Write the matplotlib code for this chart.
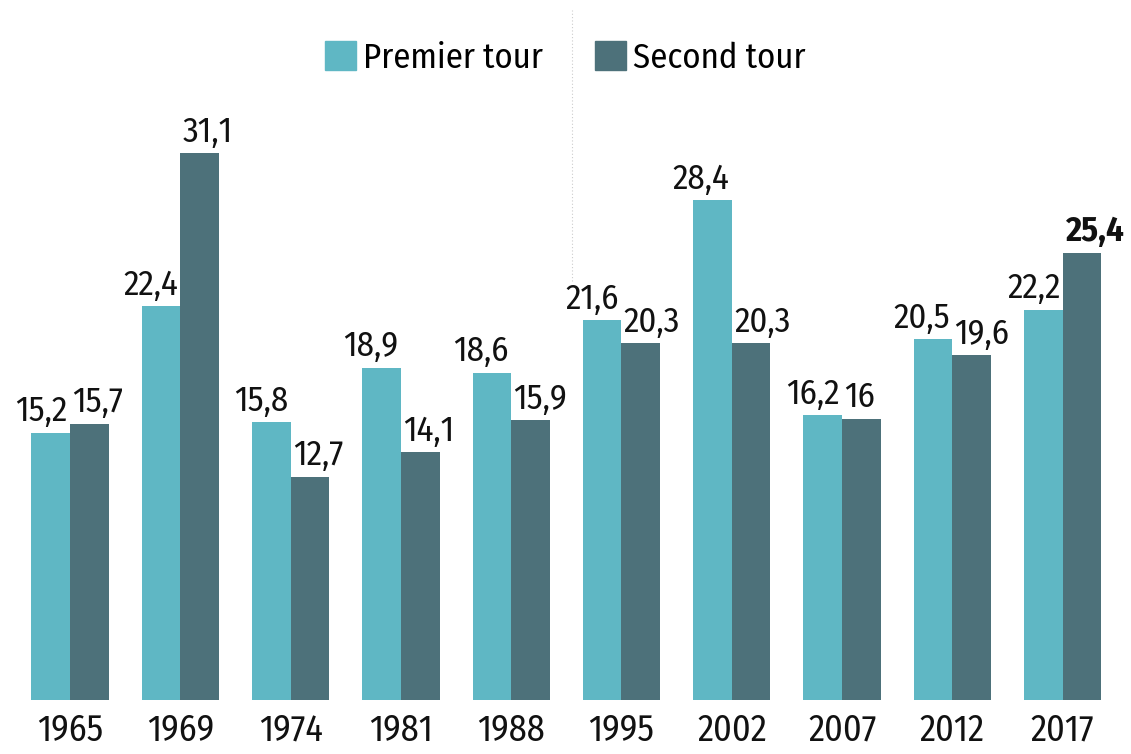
import numpy as np
import matplotlib
matplotlib.use("Agg")
import matplotlib.pyplot as plt
from matplotlib.patches import Patch

years = ["1965", "1969", "1974", "1981", "1988", "1995", "2002", "2007", "2012", "2017"]
premier = [15.2, 22.4, 15.8, 18.9, 18.6, 21.6, 28.4, 16.2, 20.5, 22.2]
second = [15.7, 31.1, 12.7, 14.1, 15.9, 20.3, 20.3, 16.0, 19.6, 25.4]
labels_premier = ["15,2", "22,4", "15,8", "18,9", "18,6", "21,6", "28,4", "16,2", "20,5", "22,2"]
labels_second = ["15,7", "31,1", "12,7", "14,1", "15,9", "20,3", "20,3", "16", "19,6", "25,4"]

LIGHT = "#5fb7c4"
DARK = "#4d717a"
plt.rcParams["font.family"] = ["Fira Sans Condensed", "DejaVu Sans"]

fig = plt.figure(figsize=(11.31, 7.54), dpi=100)
ax = fig.add_axes([0, 54 / 754, 1, 700 / 754])

x = np.arange(len(years))
w = 0.35
ax.bar(x - w / 2, premier, w, color=LIGHT, label="Premier tour")
ax.bar(x + w / 2, second, w, color=DARK, label="Second tour")

for i in range(len(years)):
    ax.text(x[i] - 0.02, premier[i] + 0.25, labels_premier[i], ha="right", va="bottom",
            fontsize=25, color="#111111")
    bold = "bold" if i == len(years) - 1 else "normal"
    ax.text(x[i] + 0.02, second[i] + 0.25, labels_second[i], ha="left", va="bottom",
            fontsize=25, color="#111111", fontweight=bold)

ax.set_xlim(-70 / 110.3, (1131 - 70) / 110.3)
ax.set_ylim(0, 700 / 17.59)
ax.set_xticks(x)
ax.set_xticklabels(years, fontsize=26, color="#111111")
ax.tick_params(axis="x", length=0, pad=9)
ax.set_yticks([])
for s in ax.spines.values():
    s.set_visible(False)

# faint dotted separator
ax.vlines(4.55, 23.8, 39.2, color="#cccccc", lw=0.8, linestyles=(0, (1, 2)))

handles = [Patch(color=LIGHT, label="Premier tour"), Patch(color=DARK, label="Second tour")]
ax.legend(handles=handles, loc="center", bbox_to_anchor=(0.5, 1 - 58 / 754),
          bbox_transform=fig.transFigure, ncol=2, frameon=False, fontsize=25,
          handlelength=0.9, handleheight=0.9, handletextpad=0.2, columnspacing=1.5)

fig.savefig("out.png", dpi=100)
